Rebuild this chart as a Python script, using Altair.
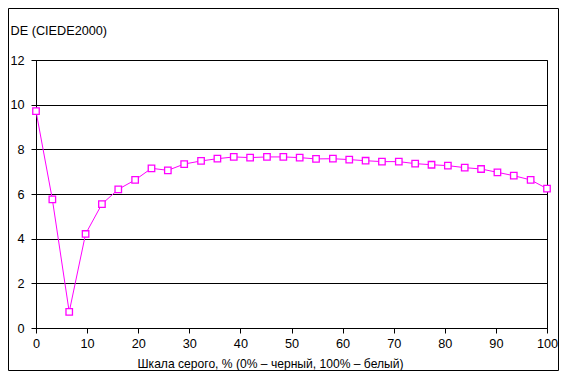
import altair as alt
import pandas as pd

gray_pct = [0, 3.2, 6.5, 9.7, 12.9, 16.1, 19.4, 22.6, 25.8, 29.0, 32.3, 35.5,
            38.7, 41.9, 45.2, 48.4, 51.6, 54.8, 58.1, 61.3, 64.5, 67.7, 71.0,
            74.2, 77.4, 80.6, 83.9, 87.1, 90.3, 93.5, 96.8, 100]
de_values = [9.71, 5.76, 0.72, 4.21, 5.55, 6.21, 6.63, 7.15, 7.06, 7.34, 7.48,
             7.58, 7.66, 7.63, 7.66, 7.66, 7.63, 7.57, 7.58, 7.54, 7.49, 7.45,
             7.45, 7.36, 7.31, 7.27, 7.18, 7.12, 6.97, 6.82, 6.63, 6.24]
x_ticks = [0, 10, 20, 30, 40, 50, 60, 70, 80, 90, 100]
y_ticks = [0, 2, 4, 6, 8, 10, 12]

x_title = "Шкала серого, % (0% – черный, 100% – белый)"
y_title = "DE (CIEDE2000)"

df = pd.DataFrame({"gray": gray_pct, "de": de_values})

FONT = "Liberation Sans"
FS = 12.7
W, H = 511, 268
PAD = {"left": 28, "top": 52, "right": 12, "bottom": 43}

x_enc = alt.X(
    "gray:Q",
    scale=alt.Scale(domain=[0, 100], nice=False, zero=False),
    axis=alt.Axis(
        values=x_ticks, grid=False, domainColor="black", tickColor="black",
        tickSize=5, labelFont=FONT, labelFontSize=FS, labelColor="black",
        labelPadding=4, labelFlush=False, title=x_title, titleFont=FONT,
        titleFontSize=12.1, titleFontWeight="normal", titleColor="black",
        titleX=234, titleY=39, titleAnchor="middle", titleAlign="center",
        titleBaseline="alphabetic",
    ),
)
y_enc = alt.Y(
    "de:Q",
    scale=alt.Scale(domain=[0, 12], nice=False),
    axis=alt.Axis(
        values=y_ticks, grid=True, gridColor="black", gridWidth=1,
        domainColor="black", tickColor="black", tickSize=5,
        labelFont=FONT, labelFontSize=FS, labelColor="black", labelPadding=7,
        title=y_title, titleFont=FONT, titleFontSize=FS,
        titleFontWeight="normal", titleColor="black", titleAngle=0,
        titleAlign="left", titleBaseline="alphabetic", titleX=-26, titleY=-26,
    ),
)

base = alt.Chart(df)
line = base.mark_line(color="#FF00FF", strokeWidth=1).encode(x=x_enc, y=y_enc)
points = base.mark_point(
    shape="square", filled=True, fill="white", stroke="#FF00FF",
    strokeWidth=1.3, size=42, opacity=1, fillOpacity=1,
).encode(x=x_enc, y=y_enc)

frame = alt.Chart(pd.DataFrame({"k": [0]})).mark_rect(
    fillOpacity=0, stroke="black", strokeWidth=1, clip=False
).encode(
    x=alt.value(-PAD["left"] + 0.5),
    x2=alt.value(W + PAD["right"] - 0.5),
    y=alt.value(-PAD["top"] + 0.5),
    y2=alt.value(H + PAD["bottom"] - 0.5),
)

chart = alt.layer(line, points, frame).properties(
    width=W, height=H,
    autosize=alt.AutoSizeParams(type="none"),
    padding=PAD,
    background="white",
).configure_view(stroke="black", strokeWidth=1)

chart.save("out.html", embed_options={"renderer": "svg", "actions": False})
